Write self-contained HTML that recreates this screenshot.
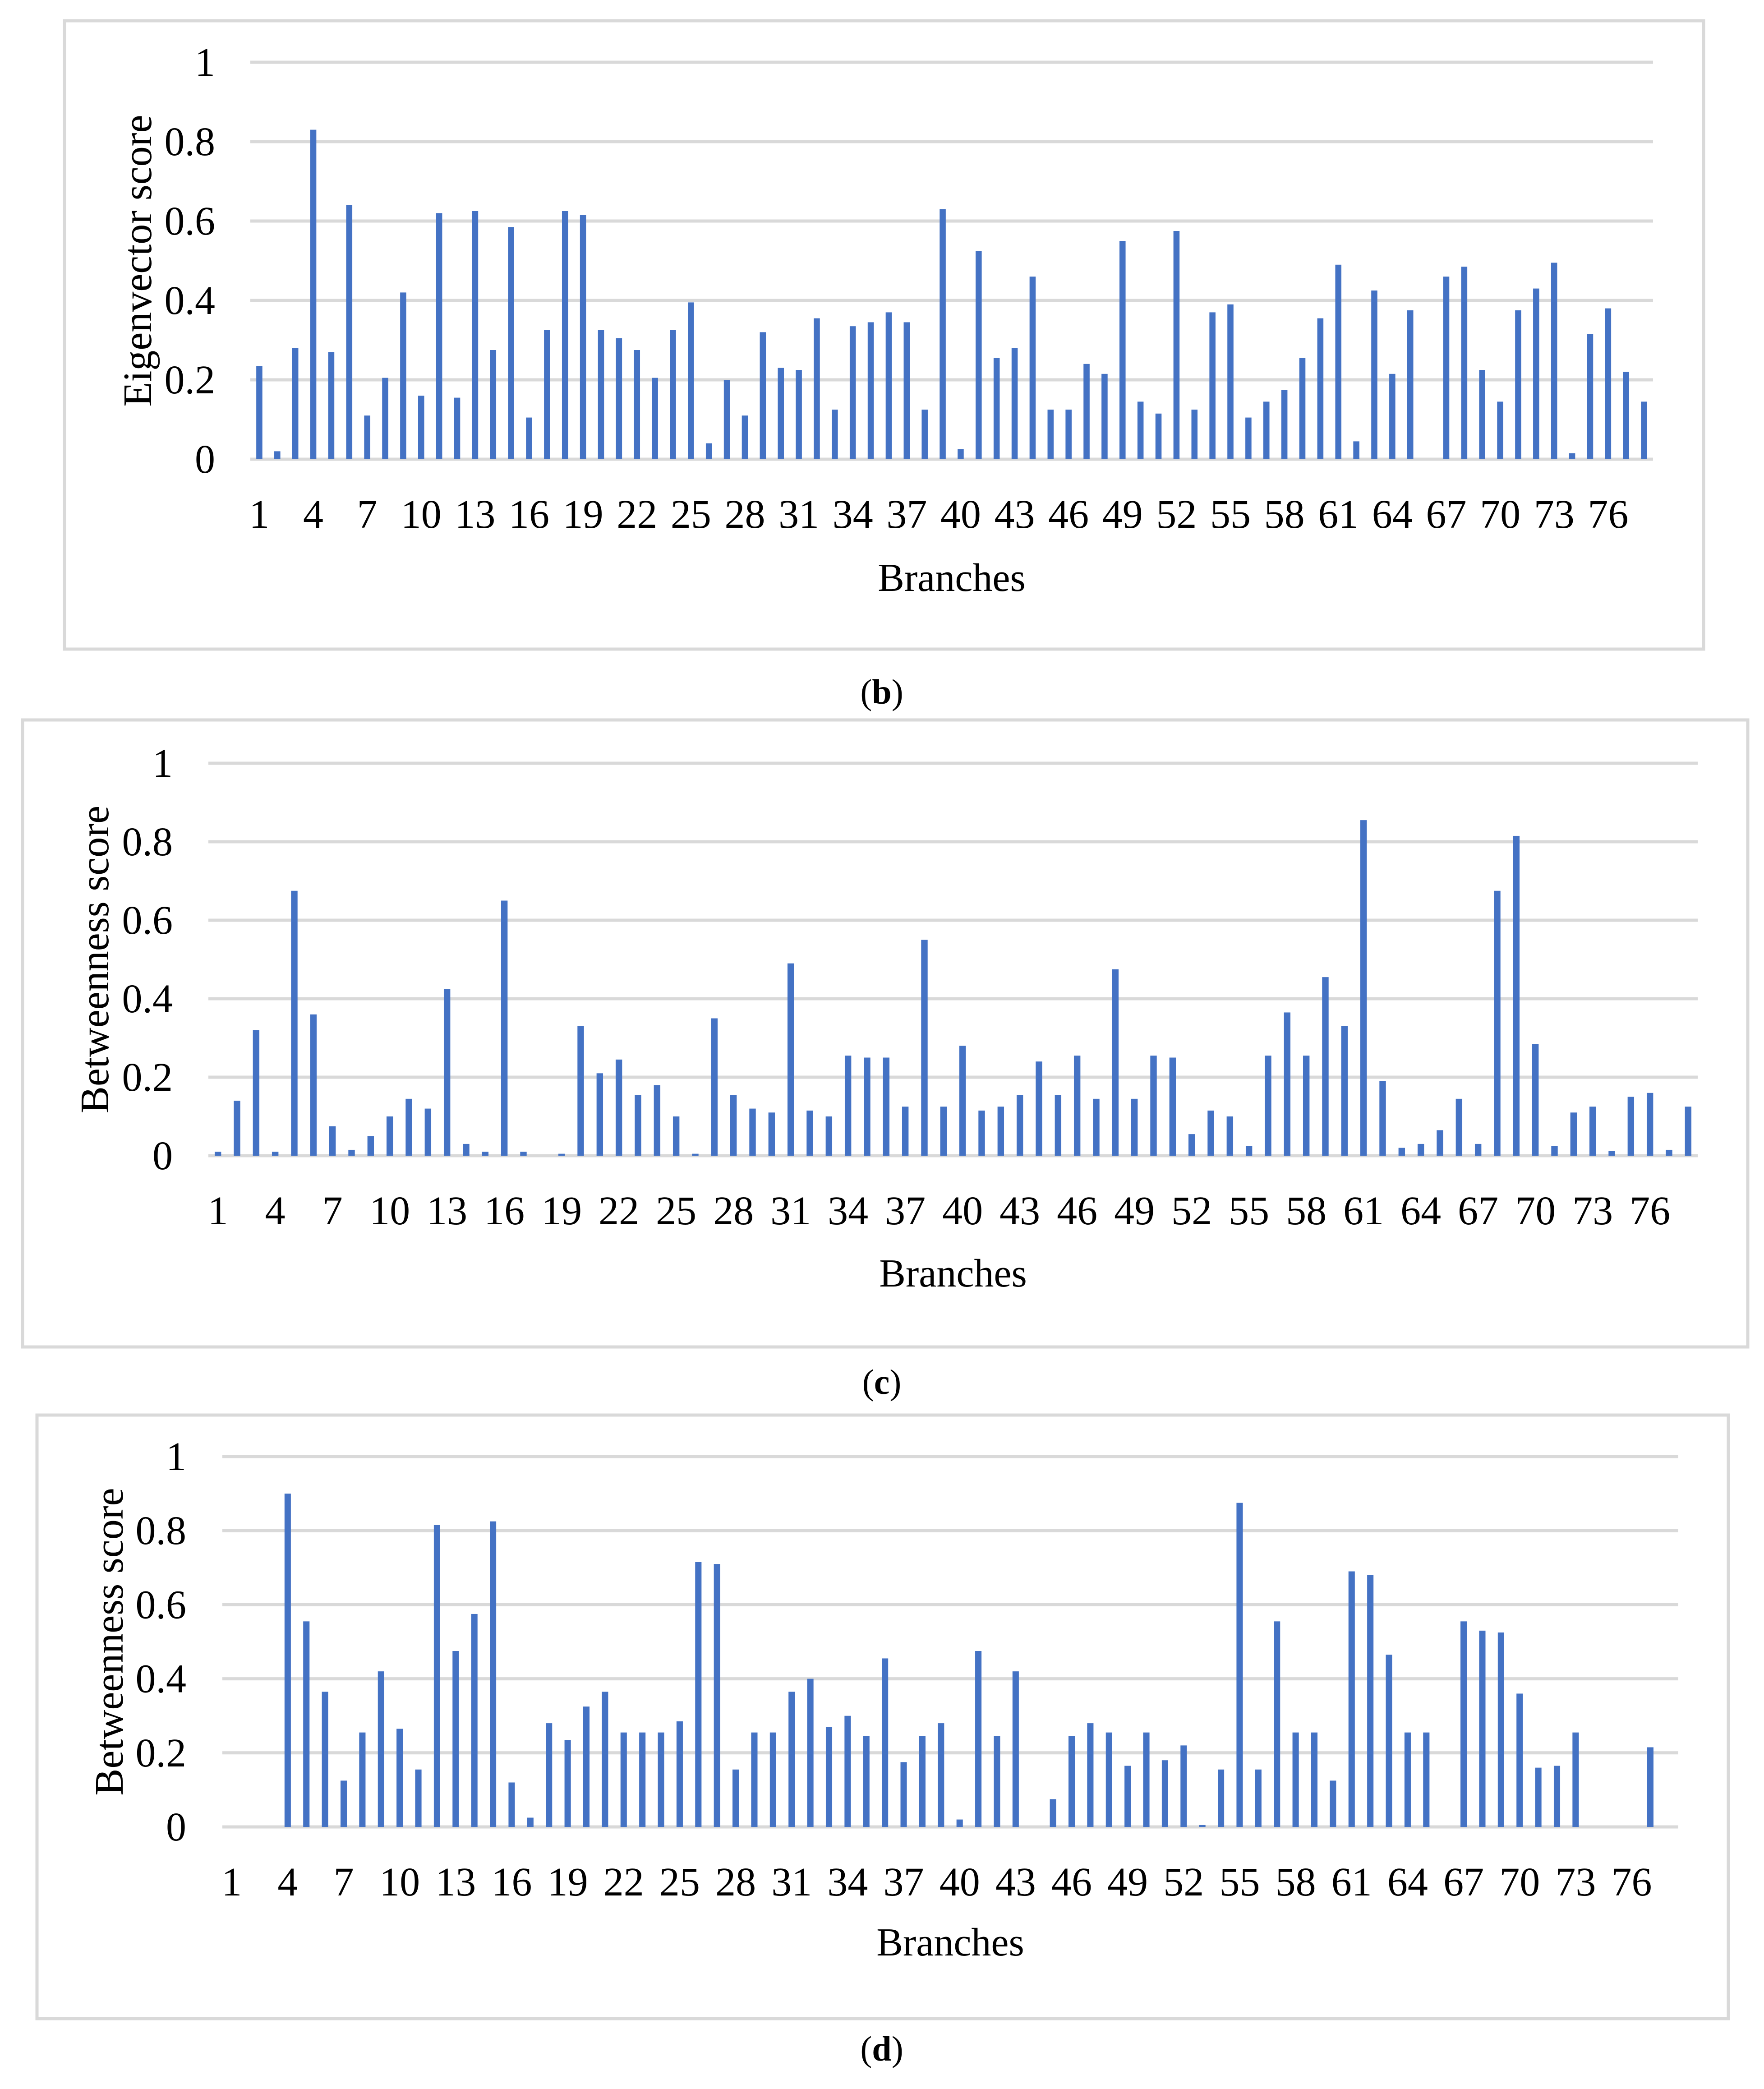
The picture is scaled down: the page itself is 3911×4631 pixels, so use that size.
<!DOCTYPE html>
<html><head><meta charset="utf-8"><style>
html,body{margin:0;padding:0;background:#fff;}
svg{display:block;font-family:"Liberation Serif","DejaVu Serif",serif;}
</style></head><body>
<svg id="fig" width="3911" height="4631" viewBox="0 0 3911 4631" xmlns="http://www.w3.org/2000/svg"></svg>
<script>
const categories = Array.from({length:78},(_,i)=>String(i+1));
const tickLabels = ["0","0.2","0.4","0.6","0.8","1"];
const tickValues = [0,0.2,0.4,0.6,0.8,1];
const eigenValues = [0.235,0.02,0.28,0.83,0.27,0.64,0.11,0.205,0.42,0.16,0.62,0.155,0.625,0.275,0.585,0.105,0.325,0.625,0.615,0.325,0.305,0.275,0.205,0.325,0.395,0.04,0.2,0.11,0.32,0.23,0.225,0.355,0.125,0.335,0.345,0.37,0.345,0.125,0.63,0.025,0.525,0.255,0.28,0.46,0.125,0.125,0.24,0.215,0.55,0.145,0.115,0.575,0.125,0.37,0.39,0.105,0.145,0.175,0.255,0.355,0.49,0.045,0.425,0.215,0.375,0,0.46,0.485,0.225,0.145,0.375,0.43,0.495,0.015,0.315,0.38,0.22,0.145];
const betweenCValues = [0.01,0.14,0.32,0.01,0.675,0.36,0.075,0.015,0.05,0.1,0.145,0.12,0.425,0.03,0.01,0.65,0.01,0,0.005,0.33,0.21,0.245,0.155,0.18,0.1,0.005,0.35,0.155,0.12,0.11,0.49,0.115,0.1,0.255,0.25,0.25,0.125,0.55,0.125,0.28,0.115,0.125,0.155,0.24,0.155,0.255,0.145,0.475,0.145,0.255,0.25,0.055,0.115,0.1,0.025,0.255,0.365,0.255,0.455,0.33,0.855,0.19,0.02,0.03,0.065,0.145,0.03,0.675,0.815,0.285,0.025,0.11,0.125,0.012,0.15,0.16,0.015,0.125];
const betweenDValues = [0,0,0,0.9,0.555,0.365,0.125,0.255,0.42,0.265,0.155,0.815,0.475,0.575,0.825,0.12,0.025,0.28,0.235,0.325,0.365,0.255,0.255,0.255,0.285,0.715,0.71,0.155,0.255,0.255,0.365,0.4,0.27,0.3,0.245,0.455,0.175,0.245,0.28,0.02,0.475,0.245,0.42,0,0.075,0.245,0.28,0.255,0.165,0.255,0.18,0.22,0.005,0.155,0.875,0.155,0.555,0.255,0.255,0.125,0.69,0.68,0.465,0.255,0.255,0,0.555,0.53,0.525,0.36,0.16,0.165,0.255,0,0,0,0.215,0];

const NS="http://www.w3.org/2000/svg";
const svg=document.getElementById('fig');
function mk(tag,attrs,parent){const e=document.createElementNS(NS,tag);for(const k in attrs)e.setAttribute(k,attrs[k]);(parent||svg).appendChild(e);return e;}

function drawPanel(p){
  const g=mk('g',{});
  
  
  const box=mk('rect',{x:p.bx0,y:p.by0,width:p.bx1-p.bx0,height:p.by1-p.by0,fill:'#fff',stroke:'#d9d9d9','stroke-width':7},g);
  
  
  const yS=v=>p.y0-(p.y0-p.y1)*v;
  const step=(p.x1-p.x0)/categories.length;
  const xC=i=>p.x0+step*(i+0.5);
  tickValues.forEach((v,i)=>{
    const ln=mk('line',{x1:p.x0,x2:p.x1,y1:yS(v),y2:yS(v),stroke:'#d9d9d9','stroke-width':7},g);
    
    
    const t=mk('text',{x:p.tickRight,y:yS(v)+30,'text-anchor':'end','font-size':90,fill:'#000'},g);
    t.textContent=tickLabels[i];
    
    
  });
  const bw=step*0.34;
  p.values.forEach((v,i)=>{
    const r=mk('rect',{x:xC(i)-bw/2,y:yS(v),width:bw,height:Math.max(0,yS(0)-yS(v)),fill:'#4472c4'},g);
    
    
  });
  categories.forEach((c,i)=>{
    if(i%3!==0)return;
    const t=mk('text',{x:xC(i),y:p.y0+152,'text-anchor':'middle','font-size':90,fill:'#000'},g);
    t.textContent=c;
    
    
  });
  const xt=mk('text',{x:(p.x0+p.x1)/2,y:p.xTitleY,'text-anchor':'middle','font-size':88,fill:'#000'},g);
  xt.textContent='Branches';
  
  
  const cy=(p.y0+p.y1)/2;
  const yt=mk('text',{x:p.yTitleX,y:cy,'text-anchor':'middle','font-size':90,fill:'#000',transform:`rotate(-90 ${p.yTitleX} ${cy})`},g);
  yt.textContent=p.yTitle;
  
  
  const cap=mk('text',{x:1955,y:p.capY,'text-anchor':'middle','font-size':78,fill:'#000'},svg);
  cap.innerHTML='(<tspan font-weight="bold">'+p.cap+'</tspan>)';
  
  
}

drawPanel({name:'chart-b-eigenvector',bx0:143,by0:46,bx1:3777,by1:1439,x0:555,x1:3665,y0:1018,y1:138,tickRight:477,xTitleY:1310,yTitleX:335,yTitle:'Eigenvector score',values:eigenValues,capY:1560,cap:'b'});
drawPanel({name:'chart-c-betweenness',bx0:50,by0:1596,bx1:3875,by1:2986,x0:462,x1:3764,y0:2562,y1:1692,tickRight:383,xTitleY:2852,yTitleX:240,yTitle:'Betweenness score',values:betweenCValues,capY:3090,cap:'c'});
drawPanel({name:'chart-d-betweenness',bx0:82,by0:3137,bx1:3832,by1:4475,x0:493,x1:3721,y0:4050,y1:3229,tickRight:413,xTitleY:4335,yTitleX:272,yTitle:'Betweenness score',values:betweenDValues,capY:4568,cap:'d'});
</script>
</body></html>
